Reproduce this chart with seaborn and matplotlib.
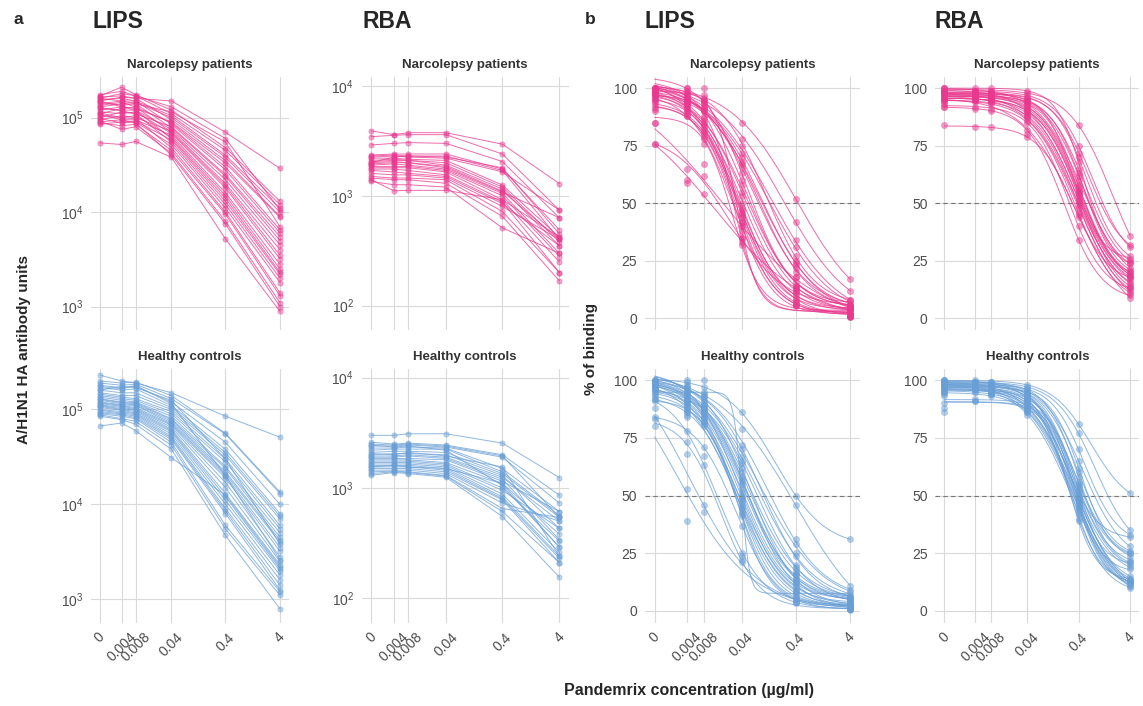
import numpy as np
import pandas as pd
import matplotlib
matplotlib.use("Agg")
import matplotlib.pyplot as plt
import seaborn as sns
from matplotlib.ticker import NullLocator

sns.set_style("white")
plt.rcParams["font.family"] = ["Liberation Sans", "DejaVu Sans"]

# ---- data --------------------------------------------------------------
doses = [0, 0.004, 0.008, 0.04, 0.4, 4]
dose_labels = ["0", "0.004", "0.008", "0.04", "0.4", "4"]
groups = ["Narcolepsy patients", "Healthy controls"]
group_colors = ["#E8398F", "#6A9FD6"]

# LIPS antibody units, in thousands (one row per subject, columns = doses)
lips_units_narco_k = [
    [150, 165, 160, 150, 70, 29], [170, 210, 175, 120, 48, 13], [160, 180, 170, 110, 45, 12],
    [140, 150, 150, 105, 40, 11], [130, 140, 145, 100, 38, 10], [165, 170, 160, 95, 35, 9],
    [120, 130, 125, 90, 33, 8.8], [110, 125, 130, 88, 30, 6.5], [155, 160, 150, 85, 28, 6],
    [100, 115, 110, 80, 25, 5.5], [145, 135, 140, 78, 24, 5], [125, 120, 120, 75, 22, 4.5],
    [95, 105, 100, 72, 20, 4], [135, 145, 130, 70, 19, 3.5], [115, 110, 115, 68, 18, 3.2],
    [90, 95, 95, 65, 16, 2.8], [105, 100, 105, 62, 15, 2.5], [150, 130, 120, 60, 14, 2.3],
    [85, 90, 92, 58, 13, 2.2], [128, 118, 110, 55, 12, 2], [98, 88, 90, 52, 11, 1.8],
    [112, 100, 98, 48, 10, 1.4], [88, 82, 85, 45, 9.5, 1.3], [92, 75, 80, 42, 8, 1.1],
    [108, 95, 88, 40, 7.5, 1.0], [54, 52, 56, 38, 5.2, 0.89], [160, 150, 140, 115, 55, 7],
    [175, 190, 170, 130, 60, 10.5],
]
lips_units_ctrl_k = [
    [230, 200, 190, 150, 85, 51], [200, 190, 195, 140, 56, 13.5], [190, 180, 185, 130, 55, 13],
    [180, 170, 175, 120, 45, 10], [170, 160, 165, 110, 38, 8], [160, 150, 150, 105, 35, 7.5],
    [150, 140, 140, 100, 33, 7], [145, 135, 130, 95, 30, 6], [140, 130, 125, 90, 28, 5.5],
    [135, 125, 120, 85, 25, 5], [130, 120, 118, 80, 24, 4.5], [128, 118, 115, 78, 22, 4.2],
    [125, 115, 112, 75, 21, 4], [120, 112, 110, 72, 20, 3.5], [118, 110, 105, 70, 19, 3.2],
    [115, 108, 102, 68, 17, 2.8], [112, 105, 100, 65, 15, 2.5], [110, 102, 98, 62, 13, 2.3],
    [108, 100, 95, 60, 12, 2.1], [105, 98, 92, 58, 11, 2], [100, 95, 90, 55, 10, 1.8],
    [98, 92, 88, 52, 9, 1.6], [95, 90, 85, 50, 8.5, 1.4], [92, 88, 82, 48, 8, 1.25],
    [90, 85, 80, 45, 6, 1.2], [88, 80, 75, 42, 5.5, 1.1], [85, 78, 70, 38, 4.7, 0.79],
    [67, 72, 60, 31, 12.5, 2.2], [160, 175, 170, 125, 30, 3.8], [175, 165, 180, 115, 20, 2.6],
]

# RBA antibody units
rba_units_narco = [
    [3900, 3600, 3750, 3750, 2950, 1290], [3450, 3550, 3600, 3600, 2400, 740],
    [2900, 3000, 3050, 3000, 2050, 630], [2350, 2400, 2400, 2400, 1750, 490],
    [2300, 2350, 2300, 2300, 1700, 400], [2250, 2300, 2250, 2200, 1650, 740],
    [2200, 2200, 2150, 2100, 1250, 420], [2100, 2150, 2100, 2000, 1200, 380],
    [2050, 2100, 2100, 1900, 1150, 350], [2000, 2050, 2000, 1850, 1100, 400],
    [1950, 2000, 2000, 1800, 1080, 630], [1900, 1950, 1900, 1750, 1050, 300],
    [1850, 1850, 1850, 1700, 1000, 280], [1800, 1800, 1800, 1650, 920, 250],
    [1750, 1750, 1700, 1550, 880, 200], [1700, 1650, 1600, 1500, 850, 350],
    [1600, 1550, 1550, 1450, 800, 400], [1500, 1450, 1450, 1400, 720, 200],
    [1450, 1400, 1400, 1300, 650, 168], [1350, 1260, 1260, 1200, 510, 300],
    [1400, 1110, 1120, 1120, 920, 420], [2000, 2250, 2300, 2250, 1800, 450],
]
rba_units_ctrl = [
    [3000, 3000, 3100, 3100, 2550, 1240], [2600, 2500, 2550, 2450, 2000, 860],
    [2500, 2450, 2500, 2400, 1950, 540], [2400, 2400, 2450, 2350, 1900, 730],
    [2300, 2300, 2350, 2300, 1500, 610], [2200, 2250, 2250, 2250, 1400, 560],
    [2100, 2150, 2150, 2100, 1350, 540], [2000, 2050, 2050, 2000, 1300, 430],
    [1950, 1950, 2000, 1900, 1250, 500], [1900, 1900, 1950, 1850, 1200, 340],
    [1850, 1850, 1850, 1800, 1150, 610], [1800, 1800, 1800, 1700, 1100, 290],
    [1750, 1750, 1750, 1650, 1000, 330], [1700, 1700, 1700, 1600, 950, 430],
    [1650, 1650, 1650, 1550, 880, 260], [1600, 1600, 1600, 1500, 830, 240],
    [1550, 1550, 1550, 1450, 800, 230], [1500, 1500, 1500, 1400, 780, 210],
    [1450, 1450, 1450, 1350, 730, 500], [1400, 1420, 1400, 1300, 650, 540],
    [1350, 1400, 1380, 1280, 610, 210], [1300, 1380, 1350, 1250, 550, 155],
    [2450, 2350, 2400, 2200, 1050, 290], [1550, 1600, 1550, 1500, 1100, 380],
    [2050, 2000, 2100, 1950, 1550, 240],
]

# % of binding, LIPS
lips_pct_narco = [
    [100, 99, 97, 85, 52, 17], [99, 98, 95, 78, 42, 12], [100, 97, 94, 72, 34, 8],
    [98, 96, 93, 70, 31, 7], [97, 95, 92, 68, 25, 6], [99, 97, 90, 67, 24, 5],
    [96, 94, 91, 66, 22, 5], [100, 100, 100, 60, 20, 4], [95, 93, 88, 55, 18, 4],
    [98, 95, 87, 53, 16, 3], [97, 92, 86, 50, 14, 3], [94, 93, 85, 48, 13, 2],
    [96, 90, 84, 47, 12, 2], [93, 92, 83, 46, 11, 2], [99, 94, 82, 45, 10, 1],
    [92, 90, 81, 44, 9, 1], [91, 89, 80, 42, 8, 1], [95, 88, 79, 40, 7, 1],
    [90, 91, 78, 40, 6.5, 0.7], [100, 96, 95, 38, 6, 1], [97, 93, 90, 35, 5.5, 0.5],
    [85, 88, 76, 32, 6, 2], [76, 65, 62, 33, 13, 5], [76, 60, 54, 35, 12, 4],
    [85, 59, 67, 42, 14, 6], [99, 100, 96, 75, 27, 8], [98, 96, 94, 63, 23, 6],
    [100, 98, 92, 58, 18, 4],
]
lips_pct_ctrl = [
    [100, 99, 97, 86, 50, 31], [99, 98, 95, 79, 46, 11], [98, 97, 94, 72, 31, 9],
    [100, 96, 93, 67, 29, 8], [97, 95, 92, 64, 25, 7], [99, 94, 90, 60, 20, 6],
    [98, 93, 89, 58, 18, 6], [96, 92, 88, 55, 17, 5], [97, 91, 87, 53, 16, 5],
    [95, 90, 86, 51, 15, 4], [99, 100, 85, 50, 14, 4], [96, 89, 100, 49, 13, 3],
    [94, 88, 84, 48, 12, 3], [98, 87, 83, 47, 11, 3], [93, 86, 82, 46, 10, 2],
    [97, 85, 81, 45, 9, 2], [92, 84, 80, 44, 8, 2], [99, 90, 86, 43, 8, 1.5],
    [95, 88, 84, 42, 7, 1.5], [91, 86, 82, 41, 6, 1], [100, 97, 91, 62, 14, 3],
    [98, 93, 88, 57, 12, 2], [84, 78, 71, 37, 5, 1], [92, 73, 67, 25, 4, 1],
    [83, 68, 63, 21, 3.5, 0.5], [88, 53, 46, 24, 5, 1], [80, 39, 43, 22, 4, 1],
    [96, 91, 87, 65, 19, 5], [99, 95, 93, 70, 24, 6], [97, 92, 89, 56, 16, 4],
]

# % of binding, RBA
rba_pct_narco = [
    [100, 99, 99, 98, 84, 36], [99, 99, 98, 97, 75, 31], [98, 98, 98, 96, 70, 27],
    [99, 98, 97, 95, 65, 25], [97, 97, 97, 94, 62, 24], [100, 99, 99, 93, 60, 22],
    [96, 97, 96, 93, 58, 20], [98, 97, 97, 92, 56, 20], [97, 96, 96, 91, 55, 19],
    [95, 96, 95, 90, 54, 18], [99, 98, 98, 90, 52, 17], [96, 95, 95, 89, 51, 16],
    [98, 96, 95, 88, 50, 15], [94, 95, 94, 88, 49, 13], [97, 95, 94, 87, 48, 12],
    [95, 94, 93, 86, 46, 11], [99, 97, 96, 95, 55, 26], [100, 100, 100, 99, 68, 24],
    [93, 92, 91, 85, 40, 13], [92, 91, 90, 82, 34, 10], [92, 95, 96, 80, 45, 9],
    [84, 83, 83, 79, 44, 18], [98, 98, 97, 96, 72, 32], [96, 97, 97, 94, 63, 21],
    [97, 96, 96, 92, 57, 19], [95, 96, 95, 90, 53, 14],
]
rba_pct_ctrl = [
    [100, 100, 99, 98, 81, 51], [99, 99, 99, 97, 77, 35], [98, 98, 98, 96, 70, 33],
    [100, 99, 99, 95, 65, 28], [97, 98, 98, 94, 60, 26], [99, 98, 97, 93, 56, 25],
    [96, 97, 97, 92, 54, 22], [98, 97, 96, 91, 52, 20], [97, 96, 96, 90, 50, 19],
    [95, 96, 95, 89, 49, 15], [99, 98, 97, 88, 48, 13], [96, 96, 95, 88, 47, 13],
    [94, 95, 95, 87, 46, 12], [98, 97, 96, 86, 45, 12], [93, 95, 94, 86, 44, 11],
    [97, 96, 96, 85, 43, 11], [95, 96, 95, 90, 42, 10], [100, 99, 98, 92, 40, 13],
    [99, 98, 98, 94, 39, 14], [98, 97, 97, 93, 55, 25], [96, 96, 96, 91, 51, 32],
    [90, 91, 94, 89, 50, 21], [88, 91, 93, 88, 48, 18], [86, 92, 94, 87, 45, 13],
    [97, 97, 97, 95, 62, 24], [99, 99, 98, 96, 58, 21], [98, 98, 97, 94, 53, 14],
    [95, 96, 96, 92, 47, 12],
]

# ---- helpers ------------------------------------------------------------
W, H = 1143, 706
dose_arr = np.array(doses, dtype=float)
pos_units = np.log10(np.maximum(dose_arr, 0.001) + 0.001)  # panel a axis
pos_pct = np.log10(np.maximum(dose_arr, 0.001))            # panel b axis


def rect(x0, x1, y0, y1):
    return [x0 / W, 1 - y1 / H, (x1 - x0) / W, (y1 - y0) / H]


def long_table(rows, xpos, scale=1.0):
    recs = []
    for i, row in enumerate(rows):
        for x, v in zip(xpos, row):
            recs.append({"subject": i, "x": x, "y": v * scale})
    return pd.DataFrame(recs)


def fit_4pl(lx, y):
    # grid search over midpoint and slope, top/bottom solved by least squares
    lc = np.linspace(-4, 1.5, 221)
    hs = np.linspace(0.3, 6, 115)
    LC, HS = np.meshgrid(lc, hs, indexing="ij")
    with np.errstate(over="ignore"):
        s = 1 / (1 + 10 ** (HS[..., None] * (lx - LC[..., None])))
    u = 1 - s
    suu, svv, suv = (u * u).sum(-1), (s * s).sum(-1), (u * s).sum(-1)
    suy, svy = (u * y).sum(-1), (s * y).sum(-1)
    det = suu * svv - suv ** 2 + 1e-9
    bot = (svv * suy - suv * svy) / det
    top = (suu * svy - suv * suy) / det
    pred = bot[..., None] * u + top[..., None] * s
    sse = ((pred - y) ** 2).sum(-1)
    sse = sse + 1e6 * (top > 115) + 1e6 * (bot < -15)
    i = np.unravel_index(np.argmin(sse), sse.shape)
    return top[i], bot[i], lc[i[0]], hs[i[1]]


def curve_table(rows, xpos):
    grid = np.linspace(xpos[0], xpos[-1], 200)
    recs = []
    for i, row in enumerate(rows):
        top, bot, lc, h = fit_4pl(np.asarray(xpos), np.asarray(row, dtype=float))
        yy = bot + (top - bot) / (1 + 10 ** (h * (grid - lc)))
        recs.append(pd.DataFrame({"subject": i, "x": grid, "y": yy}))
    return pd.concat(recs, ignore_index=True)


def style_axes(ax, xpos, title, bottom_row):
    span = xpos[-1] - xpos[0]
    ax.set_xlim(xpos[0] - 0.05 * span, xpos[-1] + 0.05 * span)
    ax.set_xticks(xpos)
    ax.set_xticklabels(dose_labels, rotation=45, ha="center", va="top")
    ax.grid(True, color="#D9D9D9", lw=0.8)
    ax.set_axisbelow(True)
    for sp in ax.spines.values():
        sp.set_visible(False)
    ax.tick_params(axis="both", length=3.5, width=0.8, color="#333333",
                   labelcolor="#4D4D4D", labelsize=10, pad=2)
    if not bottom_row:
        ax.tick_params(axis="x", length=0, labelbottom=False)
    ax.set_xlabel("")
    ax.set_ylabel("")
    ax.set_title(title, fontsize=9.5, fontweight="bold", color="#333333", pad=6)


def draw_units(ax, rows, color, title, ylog, yticks, bottom_row, scale=1.0):
    df = long_table(rows, pos_units, scale)
    sns.lineplot(data=df, x="x", y="y", units="subject", estimator=None,
                 color=color, lw=0.7, alpha=0.75, ax=ax, sort=False)
    sns.scatterplot(data=df, x="x", y="y", color=color, s=14, alpha=0.45,
                    edgecolor=color, linewidth=0.6, ax=ax)
    ax.set_yscale("log")
    ax.set_ylim(10 ** ylog[0], 10 ** ylog[1])
    ax.set_yticks([10.0 ** k for k in yticks])
    ax.set_yticklabels([r"$\mathregular{10^{%d}}$" % k for k in yticks])
    ax.yaxis.set_minor_locator(NullLocator())
    style_axes(ax, pos_units, title, bottom_row)


def draw_pct(ax, rows, color, title, bottom_row):
    df = long_table(rows, pos_pct)
    cv = curve_table(rows, pos_pct)
    sns.lineplot(data=cv, x="x", y="y", units="subject", estimator=None,
                 color=color, lw=0.7, alpha=0.75, ax=ax, sort=False)
    sns.scatterplot(data=df, x="x", y="y", color=color, s=20, alpha=0.5,
                    edgecolor=color, linewidth=0.4, ax=ax)
    ax.axhline(50, color="#777777", lw=0.8, ls=(0, (4, 3)), zorder=1)
    ax.set_ylim(-5, 105)
    ax.set_yticks([0, 25, 50, 75, 100])
    style_axes(ax, pos_pct, title, bottom_row)


# ---- figure --------------------------------------------------------------
fig = plt.figure(figsize=(W / 100, H / 100), dpi=100)

cols = [(90.9, 289.0), (361.6, 568.8), (644.9, 859.8), (935.2, 1139.3)]
rows_px = [(76.8, 329.8), (368.5, 622.5)]

unit_sets = [
    (lips_units_narco_k, lips_units_ctrl_k, (2.755, 5.432), [3, 4, 5], 1000.0),
    (rba_units_narco, rba_units_ctrl, (1.78, 4.083), [2, 3, 4], 1.0),
]
for c, (narco, ctrl, ylog, yt, sc) in enumerate(unit_sets):
    for r, data in enumerate([narco, ctrl]):
        ax = fig.add_axes(rect(cols[c][0], cols[c][1], *rows_px[r]))
        draw_units(ax, data, group_colors[r], groups[r], ylog, yt, r == 1, sc)

pct_sets = [(lips_pct_narco, lips_pct_ctrl), (rba_pct_narco, rba_pct_ctrl)]
for c, (narco, ctrl) in enumerate(pct_sets):
    for r, data in enumerate([narco, ctrl]):
        ax = fig.add_axes(rect(cols[c + 2][0], cols[c + 2][1], *rows_px[r]))
        draw_pct(ax, data, group_colors[r], groups[r], r == 1)

# panel letters and assay titles
for x, s in [(13, "a"), (585, "b")]:
    fig.text(x / W, 1 - 20 / H, s, fontsize=12.5, fontweight="bold", va="center")
for x, s in [(92, "LIPS"), (362, "RBA"), (645, "LIPS"), (935, "RBA")]:
    fig.text(x / W, 1 - 22 / H, s, fontsize=16.5, fontweight="bold", va="center")

fig.text(24 / W, 1 - 349 / H, "A/H1N1 HA antibody units", rotation=90,
         fontsize=11, fontweight="bold", ha="center", va="center")
fig.text(591 / W, 1 - 349 / H, "% of binding", rotation=90,
         fontsize=11, fontweight="bold", ha="center", va="center")
fig.text(689 / W, 1 - 690 / H, "Pandemrix concentration (µg/ml)",
         fontsize=11.5, fontweight="bold", ha="center", va="center")

fig.savefig("out.png", dpi=100)
